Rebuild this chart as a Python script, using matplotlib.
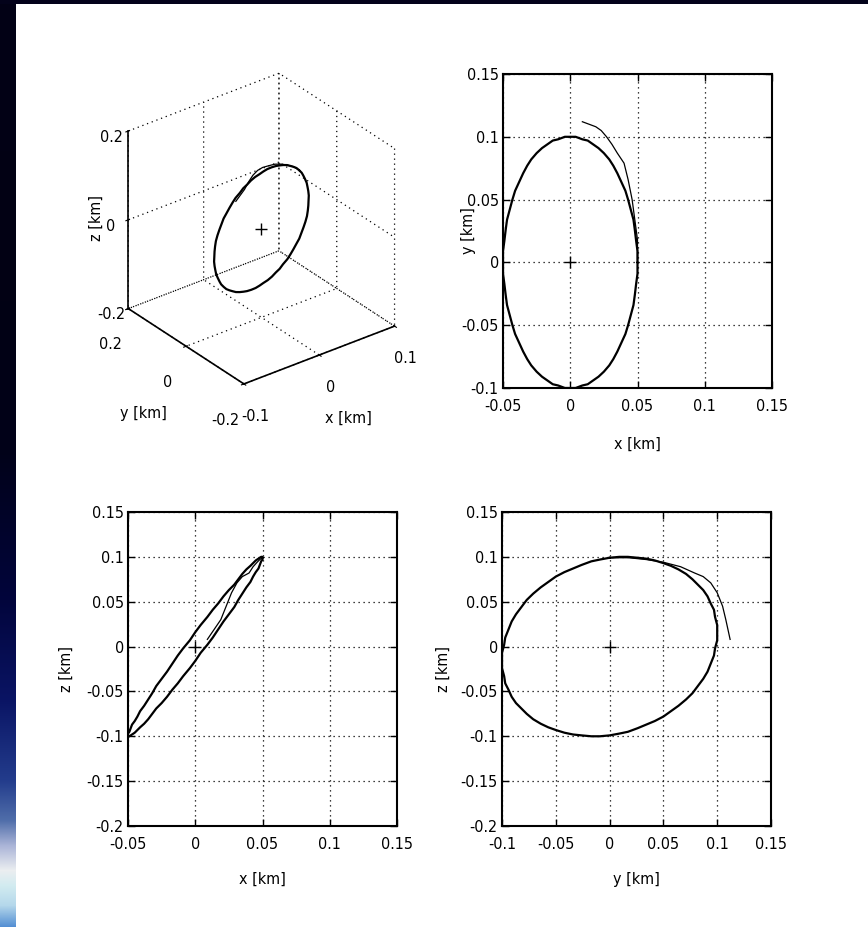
import numpy as np
import matplotlib
matplotlib.use("Agg")
import matplotlib.pyplot as plt
from matplotlib import font_manager
from matplotlib.patches import Rectangle

# relative orbit, sampled every 5 deg of the steady-state loop [km]
orbit_x = [0.050, 0.050, 0.049, 0.048, 0.047, 0.045, 0.043, 0.041, 0.038, 0.035,
           0.032, 0.029, 0.025, 0.021, 0.017, 0.013, 0.009, 0.004, 0.000, -0.004,
           -0.009, -0.013, -0.017, -0.021, -0.025, -0.029, -0.032, -0.035, -0.038, -0.041,
           -0.043, -0.045, -0.047, -0.048, -0.049, -0.050, -0.050, -0.050, -0.049, -0.048,
           -0.047, -0.045, -0.043, -0.041, -0.038, -0.035, -0.032, -0.029, -0.025, -0.021,
           -0.017, -0.013, -0.009, -0.004, 0.000, 0.004, 0.009, 0.013, 0.017, 0.021,
           0.025, 0.029, 0.032, 0.035, 0.038, 0.041, 0.043, 0.045, 0.047, 0.048,
           0.049, 0.050]
orbit_y = [0.000, 0.009, 0.017, 0.026, 0.034, 0.042, 0.050, 0.057, 0.064, 0.071,
           0.077, 0.082, 0.087, 0.091, 0.094, 0.097, 0.098, 0.100, 0.100, 0.100,
           0.098, 0.097, 0.094, 0.091, 0.087, 0.082, 0.077, 0.071, 0.064, 0.057,
           0.050, 0.042, 0.034, 0.026, 0.017, 0.009, 0.000, -0.009, -0.017, -0.026,
           -0.034, -0.042, -0.050, -0.057, -0.064, -0.071, -0.077, -0.082, -0.087, -0.091,
           -0.094, -0.097, -0.098, -0.100, -0.100, -0.100, -0.098, -0.097, -0.094, -0.091,
           -0.087, -0.082, -0.077, -0.071, -0.064, -0.057, -0.050, -0.042, -0.034, -0.026,
           -0.017, -0.009]
orbit_z = [0.099, 0.100, 0.100, 0.099, 0.098, 0.096, 0.093, 0.090, 0.086, 0.081,
           0.075, 0.069, 0.063, 0.056, 0.048, 0.041, 0.033, 0.024, 0.016, 0.007,
           -0.002, -0.010, -0.019, -0.028, -0.036, -0.044, -0.052, -0.059, -0.066, -0.072,
           -0.078, -0.083, -0.087, -0.091, -0.095, -0.097, -0.099, -0.100, -0.100, -0.099,
           -0.098, -0.096, -0.093, -0.090, -0.086, -0.081, -0.075, -0.069, -0.063, -0.056,
           -0.048, -0.041, -0.033, -0.024, -0.016, -0.007, 0.002, 0.010, 0.019, 0.028,
           0.036, 0.044, 0.052, 0.059, 0.066, 0.072, 0.078, 0.083, 0.087, 0.091,
           0.095, 0.097]

# initial transient before settling onto the loop [km]
tail_x = [0.009, 0.019, 0.023, 0.027, 0.031, 0.035, 0.040, 0.043, 0.046, 0.048, 0.050, 0.050]
tail_y = [0.112, 0.108, 0.105, 0.100, 0.094, 0.087, 0.079, 0.066, 0.050, 0.034, 0.018, 0.002]
tail_z = [0.008, 0.030, 0.045, 0.060, 0.071, 0.078, 0.082, 0.089, 0.094, 0.097, 0.099, 0.099]

ticks_xy_x = [-0.05, 0, 0.05, 0.1, 0.15]
ticks_xy_y = [-0.1, -0.05, 0, 0.05, 0.1, 0.15]
ticks_z = [-0.2, -0.15, -0.1, -0.05, 0, 0.05, 0.1, 0.15]
ticks_yz_y = [-0.1, -0.05, 0, 0.05, 0.1, 0.15]
ticks3_x = [-0.1, 0, 0.1]
ticks3_yz = [-0.2, 0, 0.2]

fonts = font_manager.fontManager.ttflist
names = {f.name for f in fonts}
condensed = any(f.name == "DejaVu Sans" and f.stretch == "condensed" for f in fonts)
if "Liberation Sans Narrow" in names:
    FONT, FS, STRETCH = "Liberation Sans Narrow", 13, "normal"
elif condensed:
    FONT, FS, STRETCH = "DejaVu Sans", 11.5, "condensed"
else:
    FONT, FS, STRETCH = "DejaVu Sans", 10.5, "normal"

plt.rcParams.update({
    "font.family": FONT,
    "font.size": FS,
    "font.stretch": STRETCH,
    "axes.unicode_minus": False,
    "grid.color": "k",
    "grid.linewidth": 0.9,
})
DOTS = (0, (1, 3))


def fmt(v):
    return "%g" % v


def closed(a):
    return list(a) + [a[0]]


W, H = 868.0, 927.0
fig = plt.figure(figsize=(W / 100, H / 100), dpi=100)
fig.patch.set_facecolor("white")

# dark frame strip on top and gradient strip on the left
fig.patches.append(Rectangle((0, 1 - 4 / H), 1, 4 / H, transform=fig.transFigure,
                             facecolor="#03021a", edgecolor="none", zorder=0))
stops = [(0, (3, 2, 22)), (300, (2, 1, 20)), (450, (1, 2, 25)), (600, (2, 5, 60)),
         (700, (10, 20, 100)), (780, (35, 60, 140)), (820, (80, 110, 170)),
         (845, (170, 180, 215)), (870, (235, 238, 240)), (885, (210, 235, 240)),
         (905, (180, 215, 235)), (927, (80, 140, 210))]
rows = np.arange(927)
sy = [s[0] for s in stops]
grad = np.stack([np.interp(rows, sy, [s[1][k] for s in stops]) for k in range(3)], axis=-1) / 255.0
ax_bg = fig.add_axes([0, 0, 16 / W, 1])
ax_bg.imshow(grad[:, None, :], aspect="auto", interpolation="nearest")
ax_bg.axis("off")


def style2d(ax, xt, yt, xl, yl, xlab, ylab, ylab_x, xlab_y):
    ax.plot(0, 0, "k+", ms=9, mew=1.0)
    ax.set_xlim(*xl)
    ax.set_ylim(*yl)
    ax.set_xticks(xt)
    ax.set_yticks(yt)
    ax.set_xticklabels([fmt(v) for v in xt])
    ax.set_yticklabels([fmt(v) for v in yt])
    ax.grid(True, linestyle=DOTS, color="k", linewidth=0.9)
    ax.tick_params(direction="in", top=True, right=True, length=5, width=1, pad=3)
    ax.tick_params(axis="x", pad=8)
    for sp in ax.spines.values():
        sp.set_linewidth(1.5)
    ax.set_xlabel(xlab)
    ax.set_ylabel(ylab)
    ax.xaxis.set_label_coords(0.5, xlab_y)
    ax.yaxis.set_label_coords(ylab_x, 0.5)


LINE = dict(color="k", lw=1.6, solid_joinstyle="round", solid_capstyle="round")
TAIL = dict(color="k", lw=0.9)

# x-y plane
ax1 = fig.add_axes([503 / W, 1 - 388 / H, 269 / W, 314 / H])
ax1.plot(closed(orbit_x), closed(orbit_y), **LINE)
ax1.plot(tail_x, tail_y, **TAIL)
style2d(ax1, ticks_xy_x, ticks_xy_y, (-0.05, 0.15), (-0.1, 0.15), "x [km]", "y [km]", -0.10, -0.155)

# x-z plane
ax2 = fig.add_axes([128 / W, 1 - 826 / H, 269 / W, 314 / H])
ax2.plot(closed(orbit_x), closed(orbit_z), **LINE)
ax2.plot(tail_x, tail_z, **TAIL)
style2d(ax2, ticks_xy_x, ticks_z, (-0.05, 0.15), (-0.2, 0.15), "x [km]", "z [km]", -0.20, -0.145)

# y-z plane
ax3 = fig.add_axes([502 / W, 1 - 826 / H, 269 / W, 314 / H])
ax3.plot(closed(orbit_y), closed(orbit_z), **LINE)
ax3.plot(tail_y, tail_z, **TAIL)
style2d(ax3, ticks_yz_y, ticks_z, (-0.1, 0.15), (-0.2, 0.15), "y [km]", "z [km]", -0.19, -0.145)

# 3-D view
ax0 = fig.add_axes([93 / W, 1 - 397 / H, 328 / W, 328 / H], projection="3d")
ax0.set_facecolor("none")
ax0.set_proj_type("ortho")
ax0.view_init(elev=30, azim=-127.5)
ax0.set_box_aspect((1, 1, 1.08))
ax0.plot(closed(orbit_x), closed(orbit_y), closed(orbit_z), **LINE)
ax0.plot(tail_x, tail_y, tail_z, **TAIL)
ax0.plot([0], [0], [0], "k+", ms=9, mew=1.0)
ax0.set_xlim(-0.1, 0.1)
ax0.set_ylim(-0.2, 0.2)
ax0.set_zlim(-0.2, 0.2)
ax0.set_xticks(ticks3_x)
ax0.set_yticks(ticks3_yz)
ax0.set_zticks(ticks3_yz)
ax0.set_xticklabels([fmt(v) for v in ticks3_x])
ax0.set_yticklabels([fmt(v) for v in ticks3_yz])
ax0.set_zticklabels([fmt(v) for v in ticks3_yz])
ax0.set_xlabel("x [km]", labelpad=10)
ax0.set_ylabel("y [km]", labelpad=14)
ax0.set_zlabel("z [km]", labelpad=-6)
ax0.xaxis.set_rotate_label(False)
ax0.yaxis.set_rotate_label(False)
ax0.zaxis.set_rotate_label(False)
ax0.xaxis.label.set_rotation(0)
ax0.yaxis.label.set_rotation(0)
ax0.zaxis.label.set_rotation(90)
ax0.tick_params(axis="x", pad=4)
ax0.tick_params(axis="y", pad=7)
ax0.tick_params(axis="z", pad=0)
for axis in (ax0.xaxis, ax0.yaxis, ax0.zaxis):
    axis.set_pane_color((1, 1, 1, 0))
    axis.pane.set_edgecolor("none")
    axis._axinfo["grid"]["linestyle"] = DOTS
    axis._axinfo["grid"]["color"] = "k"
    axis._axinfo["grid"]["linewidth"] = 0.9
    axis.line.set_linewidth(1.2)
ax0.grid(True)

fig.savefig("out.png", dpi=100)
